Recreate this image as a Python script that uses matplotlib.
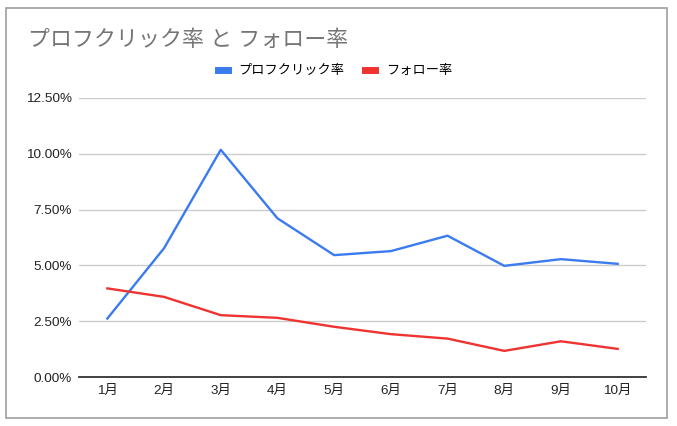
import matplotlib
matplotlib.use("Agg")
import matplotlib.pyplot as plt
from matplotlib.patches import Rectangle
from matplotlib.ticker import FuncFormatter

plt.rcParams['font.family'] = ['Liberation Sans', 'Noto Sans CJK JP', 'DejaVu Sans']

months = ["1月", "2月", "3月", "4月", "5月", "6月", "7月", "8月", "9月", "10月"]
profile_click = [2.62, 5.77, 10.18, 7.11, 5.46, 5.64, 6.33, 4.98, 5.28, 5.07]
follow_rate = [3.97, 3.59, 2.77, 2.65, 2.25, 1.92, 1.72, 1.17, 1.60, 1.26]
y_ticks = [0, 2.5, 5.0, 7.5, 10.0, 12.5]

fig = plt.figure(figsize=(6.77, 4.26), dpi=100)
fig.patches.append(Rectangle((6 / 677, 1 - 418 / 426), 661 / 677, 410 / 426,
                             transform=fig.transFigure, fill=False,
                             edgecolor="#9e9e9e", linewidth=1.2))

ax = fig.add_axes([79 / 677, 1 - 377 / 426, 567 / 677, 279 / 426])
x = range(len(months))
ax.plot(x, profile_click, color="#3a7bf0", linewidth=1.7, label="プロフクリック率")
ax.plot(x, follow_rate, color="#ee3330", linewidth=1.7, label="フォロー率")

ax.set_xlim(-0.5, len(months) - 0.5)
ax.set_ylim(0, 12.5)
ax.set_yticks(y_ticks)
ax.yaxis.set_major_formatter(FuncFormatter(lambda v, p: f"{v:.2f}%"))
ax.set_xticks(list(x))
ax.set_xticklabels(months)
ax.grid(axis="y", color="#cccccc", linewidth=1)
ax.set_axisbelow(True)
for s in ["top", "right", "left"]:
    ax.spines[s].set_visible(False)
ax.spines["bottom"].set_color("#333333")
ax.spines["bottom"].set_linewidth(1.3)
ax.tick_params(length=0, labelsize=9.7, colors="#222222")
ax.tick_params(axis="y", pad=5)
ax.tick_params(axis="x", pad=6)

fig.text(28 / 677, 1 - 40 / 426, "プロフクリック率 と フォロー率", fontsize=15.8,
         color="#757575", va="center", ha="left")
fig.legend(loc="center", bbox_to_anchor=(335 / 677, 1 - 71 / 426), ncol=2,
           frameon=False, fontsize=9.5, handlelength=0.75, handleheight=0.5,
           columnspacing=1.6, handletextpad=0.8)
for line in fig.legends[0].get_lines():
    line.set_linewidth(5)

fig.savefig("out.png", dpi=100)
